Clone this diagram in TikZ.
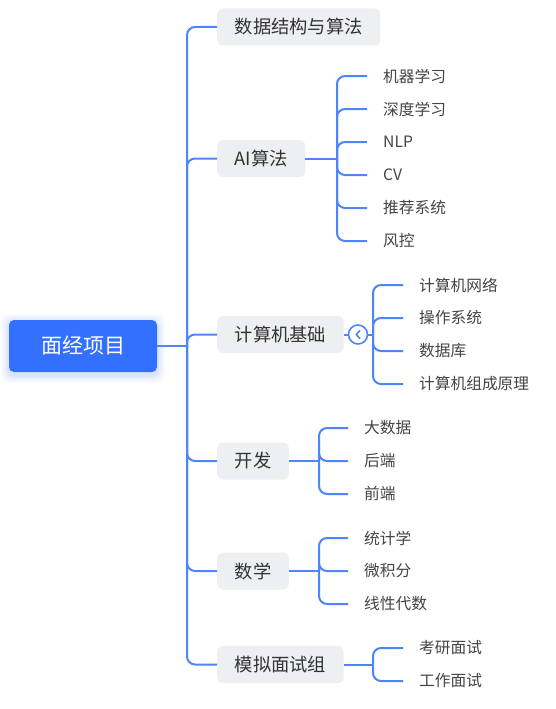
\documentclass[tikz,border=0pt]{standalone}
\usepackage{fontspec}
\setmainfont{Noto Sans CJK SC}
\definecolor{lineblue}{HTML}{4F85FA}
\definecolor{rootblue}{HTML}{3370FF}
\definecolor{boxgray}{HTML}{EEEFF2}
\definecolor{txtdark}{HTML}{333333}
\definecolor{txtchild}{HTML}{444444}
\begin{document}
\begin{tikzpicture}[x=1pt,y=-1pt,
  conn/.style={draw=lineblue,line width=2pt,rounded corners=8pt},
  topic/.style={fill=boxgray,rounded corners=6pt,text=txtdark,font=\fontsize{18.3}{20}\selectfont,minimum height=37pt,inner xsep=17.5pt,inner ysep=0pt,anchor=west},
  leaf/.style={text=txtchild,font=\fontsize{15.7}{17}\selectfont,inner xsep=16pt,inner ysep=0pt,anchor=west},
  rootbox/.style={fill=rootblue,rounded corners=5pt,text=white,font=\fontsize{21}{24}\selectfont,minimum width=148pt,minimum height=52pt,inner sep=0pt},
  btnstyle/.style={circle,draw=lineblue,line width=1.6pt,fill=white,minimum size=19pt,inner sep=0pt}]
\useasboundingbox (0,0) rectangle (555,709);
\fill[white] (0,0) rectangle (555,709);
% soft shadow of the root
\foreach \g/\o in {8/0.03,6/0.04,4/0.05,2/0.07}{
  \fill[rootblue,opacity=\o,rounded corners=8pt] (9-\g,322-\g) rectangle (157+\g,375+\g);
}
\node[rootbox] (root) at (83,346) {面经项目};
% level 1
\node[topic] (t1) at (217,27) {数据结构与算法};
\node[topic] (t2) at (217,158.5) {AI算法};
\node[topic] (t3) at (217,334.5) {计算机基础};
\node[topic] (t4) at (217,461) {开发};
\node[topic] (t5) at (217,571) {数学};
\node[topic] (t6) at (217,664.5) {模拟面试组};
% trunk
\coordinate (J) at (187,346);
\draw[conn] (root.east) -- (J);
\foreach \n in {t1,t2,t3,t4,t5,t6}{\draw[conn] (J) |- (\n.west);}
% AI children
\node[leaf] (a1) at (367,76) {机器学习};
\node[leaf] (a2) at (367,109) {深度学习};
\node[leaf] (a3) at (367,142) {NLP};
\node[leaf] (a4) at (367,175) {CV};
\node[leaf] (a5) at (367,208) {推荐系统};
\node[leaf] (a6) at (367,241) {风控};
\coordinate (aj) at (337,158.5);
\draw[conn] (t2.east) -- (aj);
\foreach \n in {a1,a2,a3,a4,a5,a6}{\draw[conn] (aj) |- (\n.west);}
% computer basics
\node[btnstyle] (btn) at (358,334.5) {};
\draw[lineblue,line width=1.6pt,line cap=round,line join=round]
  ([shift={(1.8,-3.8)}]btn.center) -- ([shift={(-1.8,0)}]btn.center) -- ([shift={(1.8,3.8)}]btn.center);
\node[leaf] (b1) at (403,285) {计算机网络};
\node[leaf] (b2) at (403,318) {操作系统};
\node[leaf] (b3) at (403,351) {数据库};
\node[leaf] (b4) at (403,384) {计算机组成原理};
\coordinate (bj) at (373,334.5);
\draw[conn] (t3.east) -- (btn.west);
\draw[conn] (btn.east) -- (bj);
\foreach \n in {b1,b2,b3,b4}{\draw[conn] (bj) |- (\n.west);}
% development
\node[leaf] (c1) at (348,428) {大数据};
\node[leaf] (c2) at (348,461) {后端};
\node[leaf] (c3) at (348,494) {前端};
\coordinate (cj) at (319,461);
\draw[conn] (t4.east) -- (cj);
\foreach \n in {c1,c2,c3}{\draw[conn] (cj) |- (\n.west);}
% math
\node[leaf] (d1) at (348,538) {统计学};
\node[leaf] (d2) at (348,571) {微积分};
\node[leaf] (d3) at (348,604) {线性代数};
\coordinate (dj) at (319,571);
\draw[conn] (t5.east) -- (dj);
\foreach \n in {d1,d2,d3}{\draw[conn] (dj) |- (\n.west);}
% mock interview
\node[leaf] (e1) at (403,648) {考研面试};
\node[leaf] (e2) at (403,681) {工作面试};
\coordinate (ej) at (373,664.5);
\draw[conn] (t6.east) -- (ej);
\foreach \n in {e1,e2}{\draw[conn] (ej) |- (\n.west);}
\end{tikzpicture}
\end{document}
